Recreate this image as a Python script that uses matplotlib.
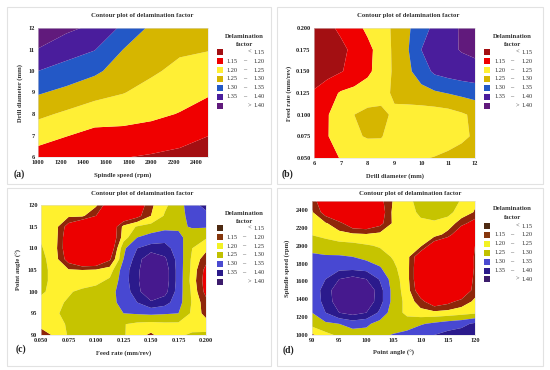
import numpy as np
import matplotlib
matplotlib.use("Agg")
import matplotlib.pyplot as plt
from matplotlib.patches import Rectangle

# ---- data ----
# (a) spindle speed (rpm) vs drill diameter (mm)
a_speed = [1000, 1250, 1500, 1750, 2000, 2250, 2500]
a_diam = [6, 7, 8, 9, 10, 11, 12]
a_df = [
    [1.180, 1.162, 1.155, 1.152, 1.145, 1.137, 1.120],
    [1.219, 1.202, 1.185, 1.185, 1.180, 1.168, 1.151],
    [1.261, 1.242, 1.225, 1.219, 1.210, 1.198, 1.178],
    [1.305, 1.287, 1.266, 1.252, 1.234, 1.219, 1.206],
    [1.350, 1.331, 1.310, 1.276, 1.257, 1.238, 1.229],
    [1.398, 1.371, 1.352, 1.300, 1.270, 1.257, 1.252],
    [1.440, 1.410, 1.390, 1.340, 1.290, 1.275, 1.270],
]

# (b) drill diameter (mm) vs feed rate (mm/rev)
b_diam = [6, 6.5, 7, 7.5, 8, 8.5, 9, 9.5, 10, 10.5, 11, 11.5, 12]
b_feed = [0.05, 0.075, 0.1, 0.125, 0.15, 0.175, 0.2]
b_df = [
    [1.160, 1.180, 1.203, 1.215, 1.225, 1.230, 1.232, 1.238, 1.245, 1.253, 1.265, 1.275, 1.285],
    [1.165, 1.198, 1.220, 1.245, 1.253, 1.252, 1.235, 1.220, 1.212, 1.212, 1.220, 1.238, 1.258],
    [1.170, 1.197, 1.225, 1.250, 1.262, 1.257, 1.245, 1.232, 1.225, 1.225, 1.230, 1.243, 1.260],
    [1.155, 1.180, 1.205, 1.215, 1.225, 1.240, 1.255, 1.270, 1.283, 1.293, 1.302, 1.312, 1.320],
    [1.125, 1.132, 1.147, 1.165, 1.190, 1.222, 1.258, 1.290, 1.325, 1.360, 1.372, 1.380, 1.385],
    [1.110, 1.120, 1.140, 1.160, 1.187, 1.220, 1.260, 1.297, 1.350, 1.370, 1.390, 1.403, 1.410],
    [1.130, 1.140, 1.158, 1.183, 1.210, 1.232, 1.258, 1.292, 1.333, 1.360, 1.385, 1.405, 1.415],
]

# (c) feed rate (mm/rev) vs point angle (deg)
c_feed = [0.05, 0.0625, 0.075, 0.0875, 0.1, 0.1125, 0.125, 0.1375, 0.15, 0.1625, 0.175, 0.1875, 0.2]
c_angle = [90, 92.5, 95, 97.5, 100, 102.5, 105, 107.5, 110, 112.5, 115, 117.5, 120]
c_df = [
    [1.170, 1.210, 1.255, 1.265, 1.270, 1.265, 1.255, 1.220, 1.190, 1.230, 1.245, 1.255, 1.260],
    [1.220, 1.235, 1.255, 1.270, 1.270, 1.260, 1.252, 1.240, 1.235, 1.240, 1.240, 1.235, 1.225],
    [1.235, 1.245, 1.260, 1.275, 1.280, 1.285, 1.300, 1.305, 1.310, 1.305, 1.300, 1.240, 1.180],
    [1.240, 1.240, 1.255, 1.270, 1.280, 1.290, 1.310, 1.350, 1.390, 1.370, 1.320, 1.245, 1.170],
    [1.255, 1.240, 1.245, 1.260, 1.270, 1.285, 1.320, 1.380, 1.460, 1.420, 1.325, 1.240, 1.130],
    [1.265, 1.235, 1.225, 1.225, 1.235, 1.260, 1.325, 1.390, 1.470, 1.430, 1.330, 1.230, 1.120],
    [1.270, 1.230, 1.205, 1.200, 1.205, 1.225, 1.325, 1.385, 1.470, 1.430, 1.330, 1.235, 1.130],
    [1.265, 1.225, 1.120, 1.050, 1.060, 1.140, 1.300, 1.375, 1.450, 1.410, 1.330, 1.240, 1.170],
    [1.255, 1.220, 1.100, 1.030, 1.030, 1.090, 1.290, 1.350, 1.370, 1.370, 1.325, 1.250, 1.215],
    [1.245, 1.225, 1.100, 1.030, 1.030, 1.080, 1.225, 1.300, 1.320, 1.330, 1.315, 1.270, 1.255],
    [1.240, 1.225, 1.120, 1.040, 1.040, 1.080, 1.215, 1.255, 1.270, 1.285, 1.290, 1.305, 1.305],
    [1.235, 1.225, 1.210, 1.210, 1.150, 1.080, 1.080, 1.130, 1.200, 1.255, 1.285, 1.315, 1.330],
    [1.235, 1.232, 1.228, 1.222, 1.210, 1.100, 1.080, 1.100, 1.190, 1.240, 1.280, 1.330, 1.370],
]

# (d) point angle (deg) vs spindle speed (rpm)
d_angle = [90, 92.5, 95, 97.5, 100, 102.5, 105, 107.5, 110, 112.5, 115, 117.5, 120]
d_speed = [1000, 1125, 1250, 1375, 1500, 1625, 1750, 1875, 2000, 2125, 2250, 2375, 2500]
d_df = [
    [1.190, 1.235, 1.260, 1.275, 1.280, 1.285, 1.305, 1.320, 1.335, 1.350, 1.365, 1.375, 1.385],
    [1.270, 1.290, 1.300, 1.320, 1.310, 1.280, 1.260, 1.270, 1.295, 1.310, 1.325, 1.335, 1.360],
    [1.300, 1.350, 1.400, 1.420, 1.400, 1.340, 1.270, 1.240, 1.220, 1.215, 1.220, 1.230, 1.240],
    [1.310, 1.370, 1.430, 1.460, 1.440, 1.370, 1.280, 1.235, 1.170, 1.100, 1.130, 1.170, 1.210],
    [1.320, 1.370, 1.440, 1.470, 1.450, 1.370, 1.280, 1.225, 1.100, 1.040, 1.040, 1.070, 1.180],
    [1.325, 1.350, 1.400, 1.420, 1.400, 1.345, 1.275, 1.220, 1.080, 1.030, 1.020, 1.050, 1.170],
    [1.320, 1.330, 1.335, 1.335, 1.330, 1.305, 1.260, 1.220, 1.080, 1.030, 1.020, 1.040, 1.160],
    [1.310, 1.305, 1.305, 1.300, 1.285, 1.270, 1.245, 1.220, 1.090, 1.040, 1.030, 1.050, 1.160],
    [1.280, 1.275, 1.270, 1.265, 1.255, 1.245, 1.235, 1.225, 1.210, 1.100, 1.050, 1.060, 1.150],
    [1.248, 1.235, 1.215, 1.210, 1.205, 1.215, 1.230, 1.240, 1.240, 1.225, 1.180, 1.080, 1.140],
    [1.225, 1.205, 1.170, 1.100, 1.090, 1.130, 1.210, 1.235, 1.245, 1.245, 1.235, 1.170, 1.120],
    [1.205, 1.120, 1.040, 1.030, 1.040, 1.110, 1.215, 1.240, 1.255, 1.265, 1.260, 1.235, 1.195],
    [1.180, 1.090, 1.060, 1.060, 1.070, 1.130, 1.205, 1.235, 1.270, 1.285, 1.280, 1.245, 1.210],
]

bounds = [1.15, 1.20, 1.25, 1.30, 1.35, 1.40]
levels = [0.9] + bounds + [1.8]

cols_ab = ["#A30F12", "#F00000", "#FFEF35", "#D6B600", "#2358C6", "#4A1D9C", "#611A7C"]
cols_cd = ["#EC0000", "#8E260A", "#FFF12E", "#C6C400", "#4848D2", "#2B1A8C", "#46198E"]
legend_cd = ["#4E2A12", "#86360C", "#F2F224", "#C0C000", "#4A4AD0", "#2A1A8A", "#3C1C6C"]

SERIF = ["Liberation Serif", "DejaVu Serif"]
W, H = 550, 370

fig = plt.figure(figsize=(5.5, 3.7), dpi=100)


def fx(px):
    return px / W


def fy(py):
    return 1 - py / H


def frame(x0, y0, x1, y1):
    fig.add_artist(Rectangle((fx(x0), fy(y1)), (x1 - x0) / W, (y1 - y0) / H,
                             transform=fig.transFigure, fill=False,
                             edgecolor="#E2E2E2", lw=0.8))


def legend(x0, y0, ytitle, colors):
    kw = dict(family=SERIF, fontsize=4.8, color="#333333", va="center")
    fig.text(fx(x0 + 28), fy(ytitle), "Delamination", ha="center", fontweight="bold", **kw)
    fig.text(fx(x0 + 28), fy(ytitle + 8.3), "factor", ha="center", fontweight="bold", **kw)
    kw["fontsize"] = 4.6
    for k, c in enumerate(colors):
        yc = y0 + k * 8.9
        fig.add_artist(Rectangle((fx(x0), fy(yc + 3)), 6 / W, 6 / H,
                                 transform=fig.transFigure, facecolor=c, edgecolor="none"))
        if k == 0:
            fig.text(fx(x0 + 33), fy(yc), "<", ha="center", **kw)
            fig.text(fx(x0 + 48), fy(yc), "%.2f" % bounds[0], ha="right", **kw)
        elif k == len(colors) - 1:
            fig.text(fx(x0 + 33), fy(yc), ">", ha="center", **kw)
            fig.text(fx(x0 + 48), fy(yc), "%.2f" % bounds[-1], ha="right", **kw)
        else:
            fig.text(fx(x0 + 21), fy(yc), "%.2f" % bounds[k - 1], ha="right", **kw)
            fig.text(fx(x0 + 27.5), fy(yc), "\u2013", ha="center", **kw)
            fig.text(fx(x0 + 48), fy(yc), "%.2f" % bounds[k], ha="right", **kw)


def panel(box, x, y, z, colors, xticks, yticks, xfmt, yfmt, xlabel, ylabel, ylab_x, tag, tag_xy,
          title_xy, xlim=None, ylim=None):
    left, top, right, bottom = box
    ax = fig.add_axes([fx(left), fy(bottom), (right - left) / W, (bottom - top) / H])
    ax.contourf(x, y, np.array(z), levels=levels, colors=colors, antialiased=True)
    ax.set_xlim(xlim if xlim else (x[0], x[-1]))
    ax.set_ylim(ylim if ylim else (y[0], y[-1]))
    ax.set_xticks(xticks)
    ax.set_yticks(yticks)
    ax.set_xticklabels([xfmt % v for v in xticks])
    ax.set_yticklabels([yfmt % v for v in yticks])
    ax.tick_params(length=0, pad=2.5, labelsize=4.6, colors="#222222")
    for lab in ax.get_xticklabels() + ax.get_yticklabels():
        lab.set_family(SERIF)
        lab.set_fontweight("bold")
    for s in ax.spines.values():
        s.set_color("#DDDDDD")
        s.set_linewidth(0.4)
    bkw = dict(family=SERIF, fontweight="bold", color="#333333", fontsize=4.8)
    fig.text(fx(title_xy[0]), fy(title_xy[1]), "Contour plot of delamination factor",
             ha="center", va="center", **bkw)
    fig.text(fx((left + right) / 2), fy(bottom + 18), xlabel, ha="center", va="center", **bkw)
    fig.text(fx(ylab_x), fy((top + bottom) / 2), ylabel, ha="center", va="center",
             rotation=90, **bkw)
    fig.text(fx(tag_xy[0]), fy(tag_xy[1]), tag, ha="center", va="center",
             family=SERIF, fontweight="bold", fontsize=7, color="#222222")
    return ax


frame(7, 7, 271, 184)
frame(277, 7, 543, 184)
frame(7, 188, 271, 366)
frame(277, 188, 543, 366)

panel((38, 28, 208, 157), a_speed, a_diam, a_df, cols_ab,
      list(range(1000, 2401, 200)), list(range(6, 13)), "%d", "%d",
      "Spindle speed (rpm)", "Drill diameter (mm)", 20, "(a)", (19, 174), (142, 16),
      xlim=(1000, 2500))
legend(216.7, 52.3, 36, cols_ab)

panel((314, 28, 475, 158), b_diam, b_feed, b_df, cols_ab,
      list(range(6, 13)), [0.05, 0.075, 0.1, 0.125, 0.15, 0.175, 0.2], "%d", "%.3f",
      "Drill diameter (mm)", "Feed rate (mm/rev)", 289, "(b)", (287, 174), (408, 16))
legend(484.3, 52.3, 36, cols_ab)

panel((41, 205, 206, 335), c_feed, c_angle, c_df, cols_cd,
      [0.05, 0.075, 0.1, 0.125, 0.15, 0.175, 0.2], list(range(90, 121, 5)), "%.3f", "%d",
      "Feed rate (mm/rev)", "Point angle (\u00b0)", 19, "(c)", (21, 349), (142, 193))
legend(216.5, 228.3, 213.3, legend_cd)

panel((312, 201, 475, 335), d_angle, d_speed, d_df, cols_cd,
      list(range(90, 121, 5)), list(range(1000, 2401, 200)), "%d", "%d",
      "Point angle (\u00b0)", "Spindle speed (rpm)", 287, "(d)", (288, 350), (410, 193),
      ylim=(1000, 2500))
legend(484.3, 226, 209, legend_cd)

fig.savefig("out.png", dpi=100, facecolor="white")
